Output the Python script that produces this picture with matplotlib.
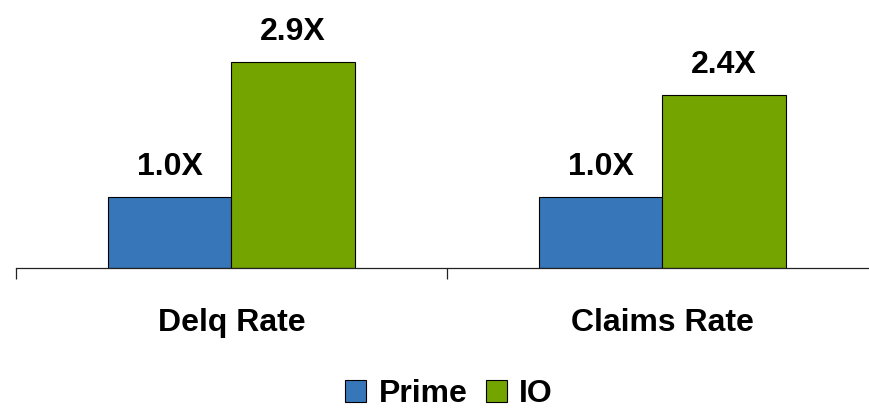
import matplotlib
matplotlib.use('Agg')
import matplotlib.pyplot as plt
import numpy as np

# Data (relative multiples, Prime = 1.0)
categories = ['Delq Rate', 'Claims Rate']
series_names = ['Prime', 'IO']
prime_values = [1.0, 1.0]
io_values = [2.9, 2.43]

colors = {'Prime': '#3776B9', 'IO': '#74A400'}

plt.rcParams['font.family'] = ['Liberation Sans', 'DejaVu Sans']
plt.rcParams['font.weight'] = 'bold'

fig = plt.figure(figsize=(8.7, 4.09), dpi=100)
ax = fig.add_axes([16 / 870, 141.3 / 409, 862 / 870, 267.7 / 409])

x = np.arange(len(categories))
width = 0.2854

bars_p = ax.bar(x - width / 2, prime_values, width, color=colors['Prime'],
                edgecolor='black', linewidth=0.8, label='Prime')
bars_i = ax.bar(x + width / 2, io_values, width, color=colors['IO'],
                edgecolor='black', linewidth=0.8, label='IO')

# value labels above bars
for bars, vals in ((bars_p, prime_values), (bars_i, io_values)):
    for b, v in zip(bars, vals):
        ax.annotate(f'{v:.1f}X', (b.get_x() + b.get_width() / 2, v),
                    xytext=(0, 15.6), textcoords='offset points',
                    ha='center', va='baseline', fontsize=23, fontweight='bold')

ax.set_xlim(-0.5, len(categories) - 0.5)
ax.set_ylim(0, 3.77)

for s in ('top', 'right', 'left'):
    ax.spines[s].set_visible(False)
ax.spines['bottom'].set_linewidth(0.9)
ax.spines['bottom'].set_color('#222222')

ax.set_yticks([])
ax.set_xticks([])
ax.set_xticks(np.arange(-0.5, len(categories)), minor=True)
ax.tick_params(axis='x', which='minor', direction='out', length=8,
               width=0.9, color='#222222', labelbottom=False)

# category labels below the axis
for xi, cat in zip(x, categories):
    ax.text(xi, -63.3 / 267.7, cat, transform=ax.get_xaxis_transform(),
            ha='center', va='baseline', fontsize=23, fontweight='bold')

leg = fig.legend(handles=[bars_p, bars_i], labels=series_names,
                 loc='center', bbox_to_anchor=(449 / 870, 1 - 394 / 409),
                 ncol=2, frameon=False, fontsize=23,
                 handlelength=0.66, handleheight=0.66, handletextpad=0.4,
                 columnspacing=0.56, borderpad=0, borderaxespad=0)
for t in leg.get_texts():
    t.set_fontweight('bold')

fig.savefig('out.png', dpi=100)
